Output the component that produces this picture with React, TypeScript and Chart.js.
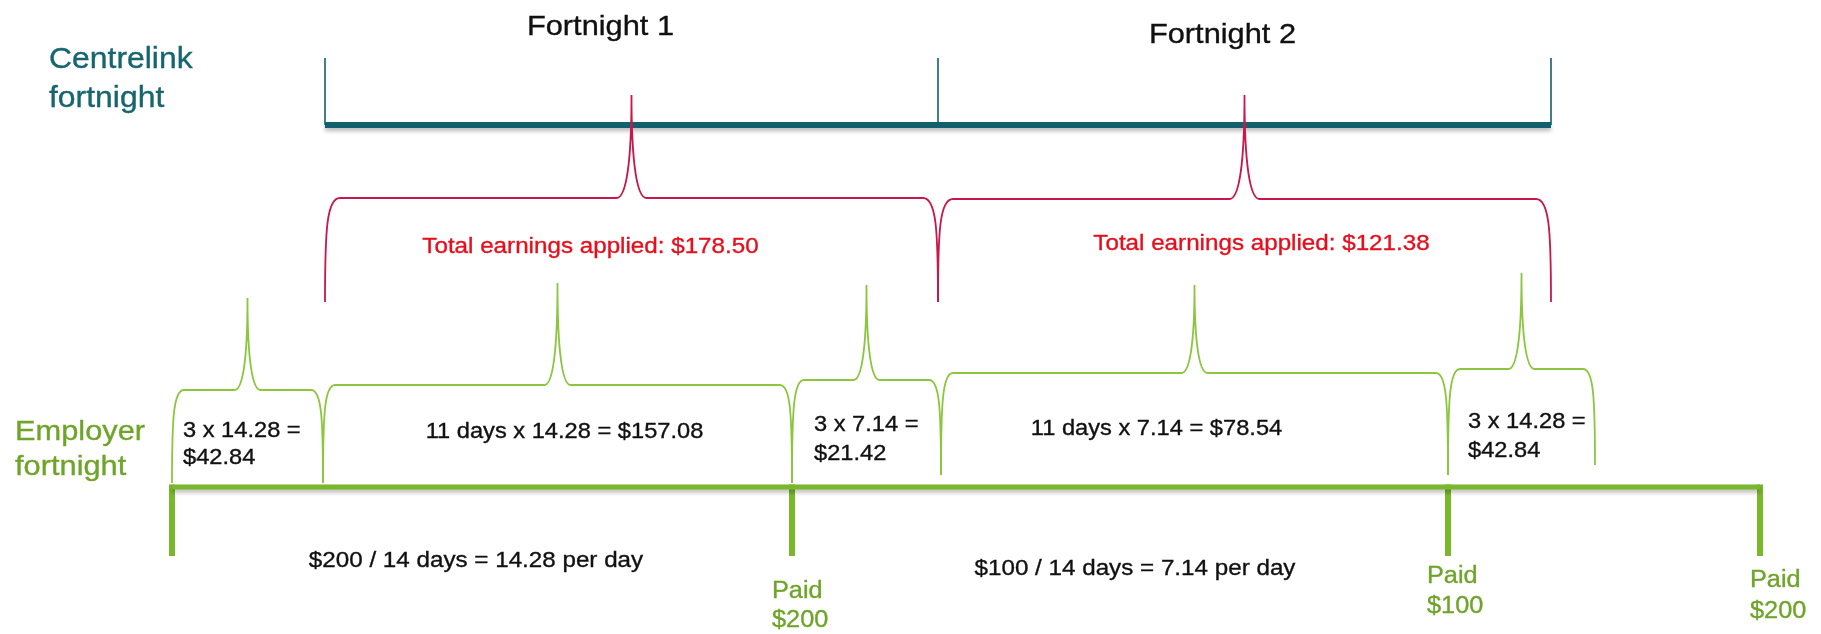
import React, { useEffect, useRef } from "react";
import { Chart, LinearScale, registerables } from "chart.js";

// ---------- DATA ----------
const centrelinkFortnights = ["Fortnight 1", "Fortnight 2"];
const centrelinkBoundaryDays = [3, 17, 31];
const employerBoundaryDays = [0, 14, 28, 42];
const employerPaidAmounts = [200, 100, 200];
const rateLabels = ["$200 / 14 days = 14.28 per day", "$100 / 14 days = 7.14 per day"];
const segmentStartDays = [0, 3, 14, 17, 28];
const segmentEndDays = [3, 14, 17, 28, 31];
const segmentLabels = [
  ["3 x 14.28 =", "$42.84"],
  ["11 days x 14.28 = $157.08"],
  ["3 x 7.14 =", "$21.42"],
  ["11 days x 7.14 = $78.54"],
  ["3 x 14.28 =", "$42.84"],
];
const appliedTotals = ["$178.50", "$121.38"];
const rowLabels = [["Centrelink", "fortnight"], ["Employer", "fortnight"]];

// ---------- LAYOUT / STYLE ----------
const W = 1821;
const H = 634;
// schematic (not-to-scale) day -> pixel breakpoints for each timeline row
const AXIS_BREAKS: Record<string, number[][]> = {
  xc: [[3, 325], [17, 938], [31, 1551]],
  xe: [[0, 172], [3, 323], [14, 792], [17, 941], [28, 1448], [31, 1595], [42, 1760]],
};
const Y = {
  tealTickTop: 58,
  teal: 125,
  redH: [198, 199],
  redTip: [95, 95],
  redEnd: [[302, 302], [302, 302]],
  greenH: [390, 385, 380, 373, 369],
  greenTip: [298, 283, 285, 285, 273],
  greenEnd: [[483, 483], [483, 483], [483, 475], [475, 475], [475, 465]],
  axis: 487,
  axisTickBottom: 556,
};
const TXT = {
  titles: [{ dx: -31, y: 35 }, { dx: -22, y: 43 }],
  applied: [{ dx: -41, y: 253 }, { dx: 17, y: 250 }],
  segments: [
    { align: "left", dx: 11, y: [437, 464] },
    { align: "center", dx: 7, y: [438] },
    { align: "left", dx: 22, y: [431, 460] },
    { align: "center", dx: -38, y: [435] },
    { align: "left", dx: 20, y: [428, 457] },
  ],
  rates: [{ dx: -6, y: 567 }, { dx: 15, y: 575 }],
  paid: [{ dx: -20, y: [598, 627] }, { dx: -21, y: [583, 613] }, { dx: -10, y: [587, 618] }],
  rows: [{ x: 49, y: [68, 107] }, { x: 15, y: [440, 475] }],
};
const FONT = "'Liberation Sans', Arial, sans-serif";
const SX = 1.1;
const C = {
  teal: "#12606d",
  tealText: "#16656f",
  redLine: "#c8174a",
  redText: "#e4101e",
  greenLine: "#8cc63f",
  greenAxis: "#79b82b",
  greenText: "#6fa42a",
  black: "#111111",
};

class PiecewiseScale extends LinearScale {
  static id = "piecewise";
  static defaults = LinearScale.defaults;
  fracFor(value: number) {
    const bp = AXIS_BREAKS[(this as any).id];
    let i = 0;
    while (i < bp.length - 2 && value > bp[i + 1][0]) i++;
    const [v0, p0] = bp[i];
    const [v1, p1] = bp[i + 1];
    return (p0 + ((value - v0) / (v1 - v0)) * (p1 - p0)) / W;
  }
  getPixelForValue(value: any) {
    if (value === null || value === undefined || !AXIS_BREAKS[(this as any).id]) return super.getPixelForValue(value);
    return (this as any).getPixelForDecimal(this.fracFor(value));
  }
  getValueForPixel(pixel: number) {
    const bp = AXIS_BREAKS[(this as any).id];
    const f = (this as any).getDecimalForPixel(pixel) * W;
    let i = 0;
    while (i < bp.length - 2 && f > bp[i + 1][1]) i++;
    const [v0, p0] = bp[i];
    const [v1, p1] = bp[i + 1];
    return v0 + ((f - p0) / (p1 - p0)) * (v1 - v0);
  }
}

Chart.register(...registerables, PiecewiseScale as any);

function drawText(ctx: CanvasRenderingContext2D, text: string, x: number, y: number, font: string, color: string, align: CanvasTextAlign = "left") {
  ctx.save();
  ctx.translate(x, y);
  ctx.scale(SX, 1);
  ctx.font = font;
  ctx.fillStyle = color;
  ctx.strokeStyle = color;
  ctx.lineWidth = 0.35;
  ctx.textAlign = align;
  ctx.textBaseline = "alphabetic";
  ctx.fillText(text, 0, 0);
  ctx.strokeText(text, 0, 0);
  ctx.restore();
}

function drawBrace(ctx: CanvasRenderingContext2D, x1: number, x2: number, yH: number, yTip: number, yEnd1: number, yEnd2: number, rEnd: number, rTip: number) {
  const xm = (x1 + x2) / 2;
  const ht = yH - yTip;
  ctx.beginPath();
  ctx.moveTo(x1, yEnd1);
  ctx.bezierCurveTo(x1, yH + (yEnd1 - yH) * 0.3, x1 + rEnd * 0.12, yH, x1 + rEnd, yH);
  ctx.lineTo(xm - rTip, yH);
  ctx.bezierCurveTo(xm - rTip * 0.35, yH, xm, yH - ht * 0.35, xm, yTip);
  ctx.bezierCurveTo(xm, yH - ht * 0.35, xm + rTip * 0.35, yH, xm + rTip, yH);
  ctx.lineTo(x2 - rEnd, yH);
  ctx.bezierCurveTo(x2 - rEnd * 0.12, yH, x2, yH + (yEnd2 - yH) * 0.3, x2, yEnd2);
  ctx.stroke();
}

const diagramPlugin = {
  id: "diagram",
  beforeDatasetDraw(chart: any, args: any) {
    const ds = chart.data.datasets[args.index];
    if (ds.shadow) {
      const ctx = chart.ctx;
      ctx.save();
      ctx.shadowColor = "rgba(0,0,0,0.28)";
      ctx.shadowBlur = 4;
      ctx.shadowOffsetY = 3;
    }
  },
  afterDatasetDraw(chart: any, args: any) {
    const ds = chart.data.datasets[args.index];
    if (ds.shadow) chart.ctx.restore();
  },
  afterDatasetsDraw(chart: any) {
    const ctx: CanvasRenderingContext2D = chart.ctx;
    const xc = chart.scales.xc;
    const xe = chart.scales.xe;
    const ys = chart.scales.y;
    const py = (v: number) => ys.getPixelForValue(v);

    // Centrelink braces (red)
    ctx.save();
    ctx.strokeStyle = C.redLine;
    ctx.lineWidth = 1.8;
    for (let i = 0; i < centrelinkFortnights.length; i++) {
      const x1 = xc.getPixelForValue(centrelinkBoundaryDays[i]);
      const x2 = xc.getPixelForValue(centrelinkBoundaryDays[i + 1]);
      drawBrace(ctx, x1, x2, py(Y.redH[i]), py(Y.redTip[i]), py(Y.redEnd[i][0]), py(Y.redEnd[i][1]), 15, 15);
    }
    // Employer segment braces (green)
    ctx.strokeStyle = C.greenLine;
    ctx.lineWidth = 1.8;
    for (let i = 0; i < segmentStartDays.length; i++) {
      const x1 = xe.getPixelForValue(segmentStartDays[i]);
      const x2 = xe.getPixelForValue(segmentEndDays[i]);
      drawBrace(ctx, x1, x2, py(Y.greenH[i]), py(Y.greenTip[i]), py(Y.greenEnd[i][0]), py(Y.greenEnd[i][1]), 12, 13);
    }
    ctx.restore();

    // Row labels
    rowLabels.forEach((lines, r) => {
      const col = r === 0 ? C.tealText : C.greenText;
      const size = r === 0 ? 29 : 28;
      lines.forEach((t, k) => drawText(ctx, t, TXT.rows[r].x, py(TXT.rows[r].y[k]), `${size}px ${FONT}`, col));
    });

    // Fortnight titles and applied totals
    for (let i = 0; i < centrelinkFortnights.length; i++) {
      const mid = (xc.getPixelForValue(centrelinkBoundaryDays[i]) + xc.getPixelForValue(centrelinkBoundaryDays[i + 1])) / 2;
      drawText(ctx, centrelinkFortnights[i], mid + TXT.titles[i].dx, py(TXT.titles[i].y), `28px ${FONT}`, C.black, "center");
      drawText(ctx, `Total earnings applied: ${appliedTotals[i]}`, mid + TXT.applied[i].dx, py(TXT.applied[i].y), `22px ${FONT}`, C.redText, "center");
    }

    // Segment calculation labels
    for (let i = 0; i < segmentLabels.length; i++) {
      const x1 = xe.getPixelForValue(segmentStartDays[i]);
      const x2 = xe.getPixelForValue(segmentEndDays[i]);
      const cfg = TXT.segments[i];
      const ax = cfg.align === "center" ? (x1 + x2) / 2 : x1;
      segmentLabels[i].forEach((t, k) =>
        drawText(ctx, t, ax + cfg.dx, py(cfg.y[k]), `21.5px ${FONT}`, C.black, cfg.align as CanvasTextAlign)
      );
    }

    // Rate labels per employer fortnight
    for (let i = 0; i < rateLabels.length; i++) {
      const mid = (xe.getPixelForValue(employerBoundaryDays[i]) + xe.getPixelForValue(employerBoundaryDays[i + 1])) / 2;
      drawText(ctx, rateLabels[i], mid + TXT.rates[i].dx, py(TXT.rates[i].y), `22px ${FONT}`, C.black, "center");
    }

    // Paid labels
    for (let i = 0; i < employerPaidAmounts.length; i++) {
      const x = xe.getPixelForValue(employerBoundaryDays[i + 1]) + TXT.paid[i].dx;
      drawText(ctx, "Paid", x, py(TXT.paid[i].y[0]), `23px ${FONT}`, C.greenText);
      drawText(ctx, `$${employerPaidAmounts[i]}`, x, py(TXT.paid[i].y[1]), `23px ${FONT}`, C.greenText);
    }
  },
};

function buildDatasets() {
  const ds: any[] = [];
  const first = centrelinkBoundaryDays[0];
  const last = centrelinkBoundaryDays[centrelinkBoundaryDays.length - 1];
  centrelinkBoundaryDays.forEach((d) =>
    ds.push({
      xAxisID: "xc",
      data: [{ x: d, y: Y.tealTickTop }, { x: d, y: Y.teal }],
      borderColor: C.teal,
      borderWidth: 1.6,
    })
  );
  ds.push({
    xAxisID: "xc",
    data: [{ x: first, y: Y.teal }, { x: last, y: Y.teal }],
    borderColor: C.teal,
    borderWidth: 6,
    shadow: true,
  });
  const e0 = employerBoundaryDays[0];
  const e1 = employerBoundaryDays[employerBoundaryDays.length - 1];
  ds.push({
    xAxisID: "xe",
    data: [{ x: e0, y: Y.axis }, { x: e1, y: Y.axis }],
    borderColor: C.greenAxis,
    borderWidth: 5,
    shadow: true,
  });
  employerBoundaryDays.forEach((d) =>
    ds.push({
      xAxisID: "xe",
      data: [{ x: d, y: Y.axis - 2.5 }, { x: d, y: Y.axisTickBottom }],
      borderColor: C.greenAxis,
      borderWidth: 6,
    })
  );
  return ds.map((d) => ({ ...d, showLine: true, pointRadius: 0, fill: false, tension: 0, yAxisID: "y" }));
}

export default function App() {
  const ref = useRef<HTMLCanvasElement | null>(null);
  useEffect(() => {
    document.body.style.margin = "0";
    const canvas = ref.current;
    if (!canvas) return;
    const chart = new Chart(canvas, {
      type: "scatter",
      data: { datasets: buildDatasets() },
      options: {
        animation: false,
        responsive: false,
        maintainAspectRatio: false,
        events: [],
        layout: { padding: 0 },
        plugins: { legend: { display: false }, tooltip: { enabled: false } },
        scales: {
          xc: { type: "piecewise", axis: "x", min: 0, max: 42, display: false },
          xe: { type: "piecewise", axis: "x", min: 0, max: 42, display: false },
          y: { type: "linear", min: 0, max: H, reverse: true, display: false },
        },
      } as any,
      plugins: [diagramPlugin as any],
    });
    return () => chart.destroy();
  }, []);
  return (
    <div style={{ width: W, height: H, background: "#ffffff" }}>
      <canvas ref={ref} width={W} height={H} style={{ display: "block" }} />
    </div>
  );
}
